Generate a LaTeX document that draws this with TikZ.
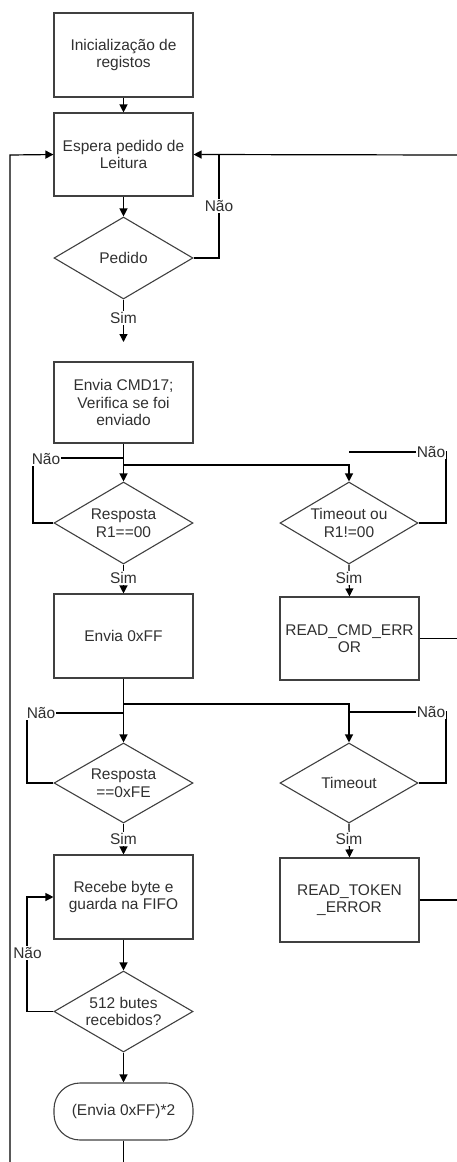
\documentclass[tikz,border=0pt]{standalone}
\usepackage{fontspec}
\setmainfont{Liberation Sans}
\usetikzlibrary{shapes.geometric,arrows.meta}
\definecolor{edge}{HTML}{404040}
\definecolor{ink}{HTML}{303030}
\tikzset{
  every node/.style={font=\fontsize{15.5}{17.5}\selectfont, text=ink},
  procbox/.style={draw=edge, line width=1.1pt, rectangle, inner sep=0pt,
    minimum width=139pt, minimum height=83pt, align=center},
  decision/.style={draw=edge, line width=1.1pt, diamond, inner sep=0pt,
    minimum width=139pt, minimum height=81pt},
  terminal/.style={draw=edge, line width=1.1pt, rectangle, rounded corners=26pt,
    inner sep=0pt, minimum width=139pt, minimum height=57pt, align=center},
  flow/.style={draw=black, line width=1.2pt},
  arr/.style={flow, -{Triangle[length=8pt,width=8pt]}},
  tag/.style={fill=white, inner sep=1pt, align=center},
}
\begin{document}
\begin{tikzpicture}[x=1pt,y=-1pt]
\useasboundingbox (0,0) rectangle (457,1162);

% left column
\node[procbox, minimum height=84pt] (init) at (123.5,55) {Inicialização de\\registos};
\node[procbox] (wait) at (123.5,154.5) {Espera pedido de\\Leitura};
\node[decision, minimum height=82pt, label={[align=center]center:Pedido}] (pedido) at (123.5,258) {};
\node[procbox, minimum height=81pt] (cmd) at (123.5,402.5) {Envia CMD17;\\Verifica se foi\\enviado};
\node[decision, minimum height=82pt, label={[align=center]center:Resposta\\R1==00}] (resp1) at (123.5,523) {};
\node[procbox, minimum height=84pt] (envff) at (123.5,636) {Envia 0xFF};
\node[decision, minimum height=80pt, label={[align=center]center:Resposta\\==0xFE}] (resp2) at (123.5,783) {};
\node[procbox, minimum height=84pt] (recebe) at (123.5,897) {Recebe byte e\\guarda na FIFO};
\node[decision, minimum height=81pt, label={[align=center]center:512 butes\\recebidos?}] (b512) at (123.5,1011.5) {};
\node[terminal] (fin) at (123.5,1111.5) {(Envia 0xFF)*2};

% right column
\node[decision, minimum width=138pt, minimum height=82pt, label={[align=center]center:Timeout ou\\R1!=00}] (tout1) at (349,523) {};
\node[procbox] (cmderr) at (349.5,638.5) {READ\_CMD\_ERR\\OR};
\node[decision, minimum width=138pt, minimum height=80pt, label={[align=center]center:Timeout}] (tout2) at (349,783) {};
\node[procbox, minimum height=84pt] (tokerr) at (349.5,900) {READ\_TOKEN\\\_ERROR};

% free ends and junctions
\coordinate (rin) at (457,155);
\coordinate (lbot) at (10,1162);
\coordinate (simend) at (123.5,342);
\coordinate (j1) at (123.5,465);
\coordinate (j2) at (123.5,704);
\coordinate (out1) at (457,638.5);
\coordinate (out2) at (457,900);
\coordinate (fbot) at (123.5,1162);

% main sequence
\draw[arr] (init) -- (wait);
\draw[arr] (wait) -- (pedido);
\draw[arr] (rin) -- (wait.east);
\draw[arr] (lbot) -- (10,155) -- (wait.west);

% Pedido branches
\draw[flow] (pedido.east) -- (219,258) -- (219,155);
\node[tag] (n0) at (219,206) {Não};
\draw[arr] (pedido.south) -- (simend);
\node[tag] (s0) at (123.5,318) {Sim};

% after CMD17
\draw[flow] (cmd.south) -- (j1);
\draw[arr] (j1) -- (resp1.north);
\draw[arr] (j1) -- (349,465) -- (tout1.north);
\draw[flow] (resp1.west) -- (33,523) -- (33,458) -- (123.5,458);
\node[tag] (n1) at (46,459) {Não};
\draw[flow] (tout1.east) -- (446,523) -- (446,452) -- (349,452);
\node[tag] (n2) at (431,452) {Não};
\draw[arr] (resp1.south) -- (envff.north);
\node[tag] (s1) at (123.5,578) {Sim};
\draw[arr] (tout1.south) -- (cmderr.north);
\node[tag] (s2) at (349,578) {Sim};
\draw[flow] (cmderr.east) -- (out1);

% after Envia 0xFF
\draw[flow] (envff.south) -- (j2);
\draw[arr] (j2) -- (resp2.north);
\draw[arr] (j2) -- (349,704) -- (tout2.north);
\draw[flow] (resp2.west) -- (27,783) -- (27,713) -- (123.5,713);
\node[tag] (n3) at (41,713) {Não};
\draw[flow] (tout2.east) -- (446,783) -- (446,712) -- (349,712);
\node[tag] (n4) at (431,712) {Não};
\draw[arr] (resp2.south) -- (recebe.north);
\node[tag] (s3) at (123.5,839) {Sim};
\draw[arr] (tout2.south) -- (tokerr.north);
\node[tag] (s4) at (349,839) {Sim};
\draw[flow] (tokerr.east) -- (out2);

% data loop
\draw[arr] (recebe) -- (b512);
\draw[arr] (b512.west) -- (27,1011.5) -- (27,897) -- (recebe.west);
\node[tag] (n5) at (27.5,953) {Não};
\draw[arr] (b512) -- (fin);
\draw[flow] (fin.south) -- (fbot);
\end{tikzpicture}
\end{document}
